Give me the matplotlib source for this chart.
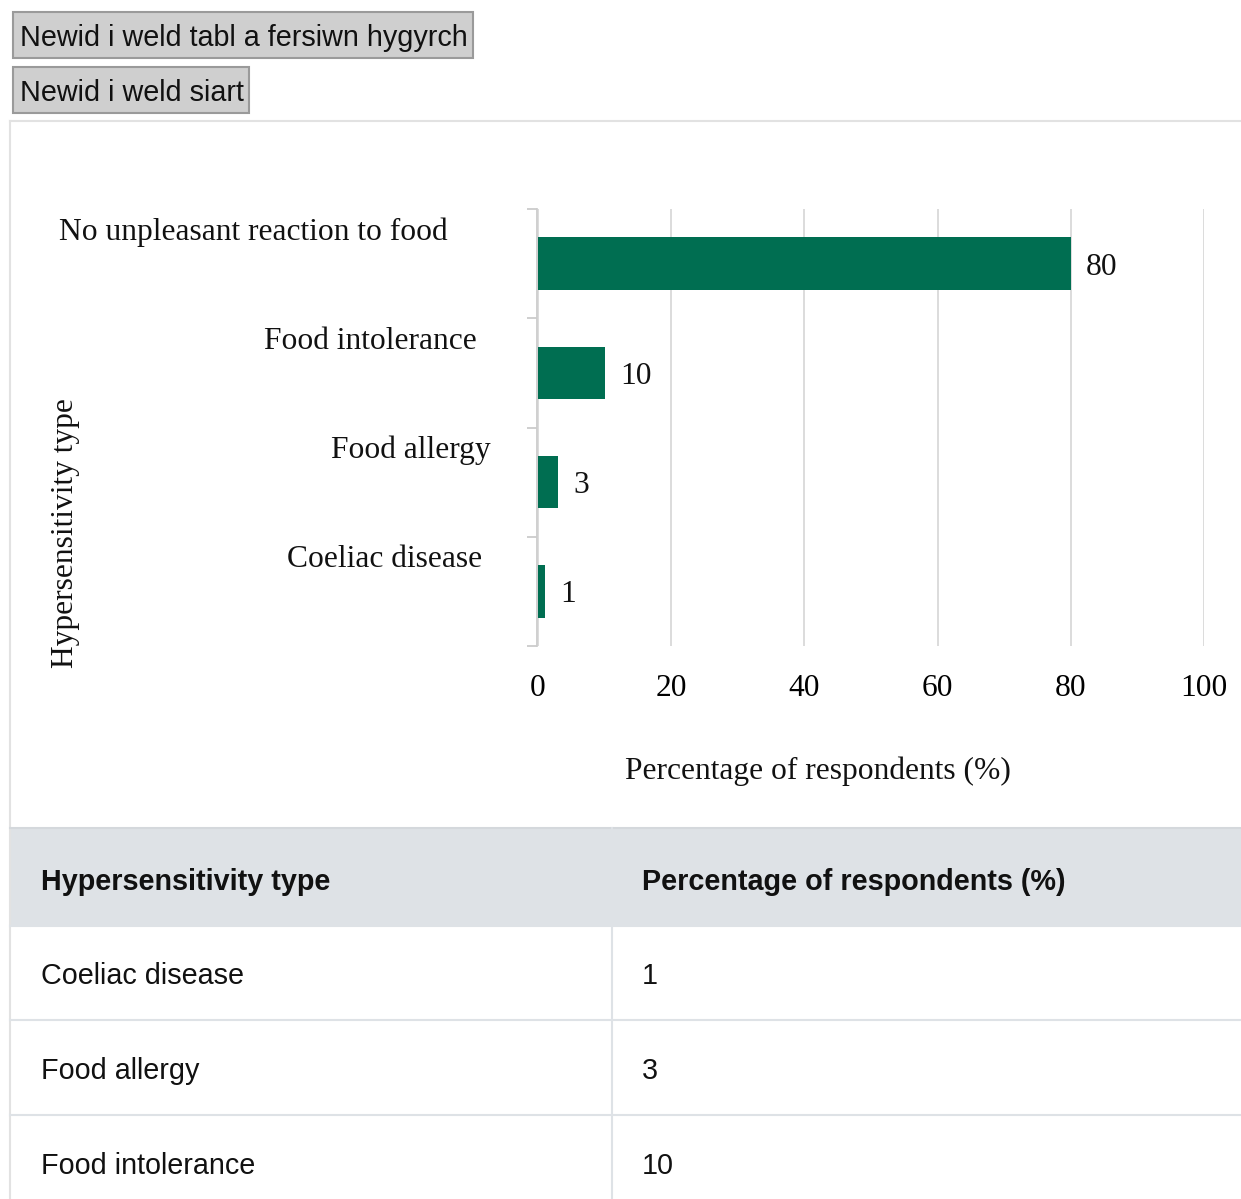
import matplotlib
matplotlib.use("Agg")
from matplotlib import pyplot as plt
from matplotlib.patches import Rectangle
from matplotlib.lines import Line2D
import numpy as np

# data
categories = ["No unpleasant reaction to food", "Food intolerance", "Food allergy", "Coeliac disease"]
values = [80, 10, 3, 1]
x_ticks = [0, 20, 40, 60, 80, 100]
button_labels = ["Newid i weld tabl a fersiwn hygyrch", "Newid i weld siart"]
table_header = ["Hypersensitivity type", "Percentage of respondents (%)"]
x_title = "Percentage of respondents (%)"
y_title = "Hypersensitivity type"

W, H = 1241, 1199
green = "#006e51"
grid_col = "#d9d9d9"
line_col = "#dee2e6"
serif = "Liberation Serif"
sans = "Liberation Sans"
fs_serif = 22.7
fs_sans = 20.7


def fx(px):
    return px / W


def fy(py):
    return 1 - py / H


fig = plt.figure(figsize=(W / 100, H / 100), dpi=100)
fig.patch.set_facecolor("white")

# buttons on top
btn_boxes = [(13, 12, 473, 58), (13, 67, 249, 113)]
for (x0, y0, x1, y1), lab in zip(btn_boxes, button_labels):
    fig.patches.append(Rectangle((fx(x0), fy(y1)), fx(x1 - x0), (y1 - y0) / H,
                                 transform=fig.transFigure, facecolor="#cfcfcf",
                                 edgecolor="#9a9a9a", linewidth=1.5))
    fig.text(fx(20), fy((y0 + y1) / 2 + 3), lab, family=sans, fontsize=fs_sans,
             ha="left", va="center", color="#111111")

# chart container border
fig.add_artist(Line2D([fx(10), 1], [fy(121), fy(121)], color="#e2e2e2", lw=1.5, transform=fig.transFigure))
fig.add_artist(Line2D([fx(10), fx(10)], [fy(121), 0], color="#e2e2e2", lw=1.5, transform=fig.transFigure))

# bar chart
ax = fig.add_axes([fx(538), fy(646), fx(1204 - 538), (646 - 209) / H])
y = np.arange(len(categories))
ax.barh(y, values, height=0.48, color=green, zorder=2)
ax.set_xlim(0, 100)
ax.set_ylim(len(categories) - 0.5, -0.5)
ax.set_xticks(x_ticks)
ax.set_xticklabels([str(t) for t in x_ticks], family=serif, fontsize=fs_serif)
ax.tick_params(axis="x", length=0, pad=20)
ax.set_yticks([])
ax.set_yticks(np.arange(len(categories) + 1) - 0.5, minor=True)
ax.tick_params(axis="y", which="minor", length=7.5, width=1.3, color="#cccccc")
ax.tick_params(axis="y", which="major", length=0)
ax.xaxis.grid(True, color=grid_col, lw=1.3)
ax.set_axisbelow(True)
for s in ["top", "right", "bottom"]:
    ax.spines[s].set_visible(False)
ax.spines["left"].set_color("#cccccc")
ax.spines["left"].set_linewidth(1.3)
ax.spines["left"].set_position(("outward", 1))

label_right = [448, 477, 491, 482]
for i, (cat, v) in enumerate(zip(categories, values)):
    ax.text((label_right[i] - 538) / 666, i - 0.29, cat, transform=ax.get_yaxis_transform(),
            family=serif, fontsize=fs_serif, ha="right", va="center", color="#111111")
    ax.annotate(str(v), (v, i), xytext=(11, -2.5), textcoords="offset points",
                family=serif, fontsize=fs_serif, ha="left", va="center", color="#111111")

fig.text(fx(66), fy(533), y_title, rotation=90, family=serif, fontsize=fs_serif,
         ha="center", va="center", color="#111111")
fig.text(fx(818), fy(771), x_title, family=serif, fontsize=fs_serif,
         ha="center", va="center", color="#111111")

# table below chart
fig.patches.append(Rectangle((fx(10), fy(926)), 1 - fx(10), (926 - 828) / H,
                             transform=fig.transFigure, facecolor="#dee2e6", edgecolor="none"))
fig.add_artist(Line2D([fx(10), 1], [fy(828), fy(828)], color="#d4d8dc", lw=1.5, transform=fig.transFigure))
for ry in [926, 1020, 1115]:
    fig.add_artist(Line2D([fx(10), 1], [fy(ry), fy(ry)], color=line_col, lw=1.5, transform=fig.transFigure))
fig.add_artist(Line2D([fx(612), fx(612)], [fy(828), 0], color=line_col, lw=1.5, transform=fig.transFigure))

col_x = [41, 642]
for cx, h in zip(col_x, table_header):
    fig.text(fx(cx), fy(882), h, family=sans, fontsize=fs_sans, fontweight="bold",
             ha="left", va="center", color="#111111")

table_rows = sorted(zip(categories, values), key=lambda r: r[1])
row_y = [976, 1071, 1166]
for ry, (cat, v) in zip(row_y, table_rows):
    fig.text(fx(col_x[0]), fy(ry), cat, family=sans, fontsize=fs_sans, ha="left", va="center", color="#111111")
    fig.text(fx(col_x[1]), fy(ry), str(v), family=sans, fontsize=fs_sans, ha="left", va="center", color="#111111")

fig.savefig("out.png", dpi=100)
